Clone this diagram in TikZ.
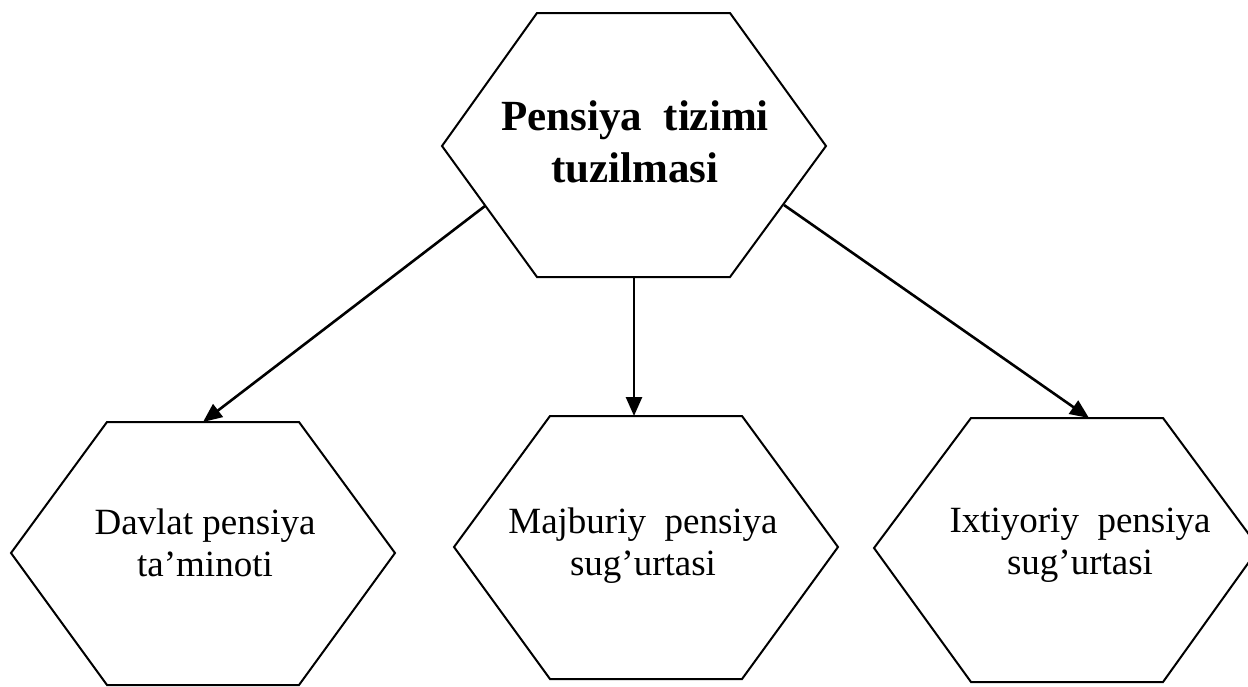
\documentclass[tikz,border=0pt]{standalone}
\usepackage{fontspec}
\setmainfont{Liberation Serif}
\usetikzlibrary{arrows.meta}
\tikzset{
  hexline/.style={draw=black, line width=1pt, line join=miter},
  conn/.style={draw=black, line width=1.3pt, -{Triangle[length=9.5pt,width=8pt]}},
  toptext/.style={align=center, inner sep=0pt, anchor=base, font=\fontsize{21.5}{26}\selectfont\bfseries},
  subtext/.style={align=center, inner sep=0pt, anchor=base, font=\fontsize{18.5}{21}\selectfont},
}
\begin{document}
\begin{tikzpicture}[x=0.5pt, y=-0.5pt]
\useasboundingbox (0,0) rectangle (1248,686);
\clip (0,0) rectangle (1248,686);
% top hexagon
\draw[hexline] (537,13) -- (730,13) -- (826,146) -- (730,277) -- (537,277) -- (442,146) -- cycle;
\node[toptext] (top) at (635,182) {Pensiya\ \ tizimi\\tuzilmasi};
% bottom-left hexagon
\draw[hexline] (107,422) -- (299,422) -- (395,553) -- (299,685) -- (107,685) -- (11,553) -- cycle;
\node[subtext] (davlat) at (205,576) {Davlat pensiya\\ta’minoti};
% bottom-middle hexagon
\draw[hexline] (550,416) -- (742,416) -- (838,547) -- (742,679) -- (550,679) -- (454,547) -- cycle;
\node[subtext] (majburiy) at (643,575) {Majburiy\ \ pensiya\\sug’urtasi};
% bottom-right hexagon
\draw[hexline] (971,418) -- (1163,418) -- (1259,548) -- (1163,682) -- (971,682) -- (874,548) -- cycle;
\node[subtext] (ixtiyoriy) at (1080,574) {Ixtiyoriy\ \ pensiya\\sug’urtasi};
% connector end points on hexagon edges
\coordinate (topL) at (485,206);
\coordinate (topM) at (634,277);
\coordinate (topR) at (784,205);
\coordinate (inL) at (203,422);
\coordinate (inM) at (634,416);
\coordinate (inR) at (1089,418);
\draw[conn] (topL) -- (inL);
\draw[conn] (topM) -- (inM);
\draw[conn] (topR) -- (inR);
\end{tikzpicture}
\end{document}
